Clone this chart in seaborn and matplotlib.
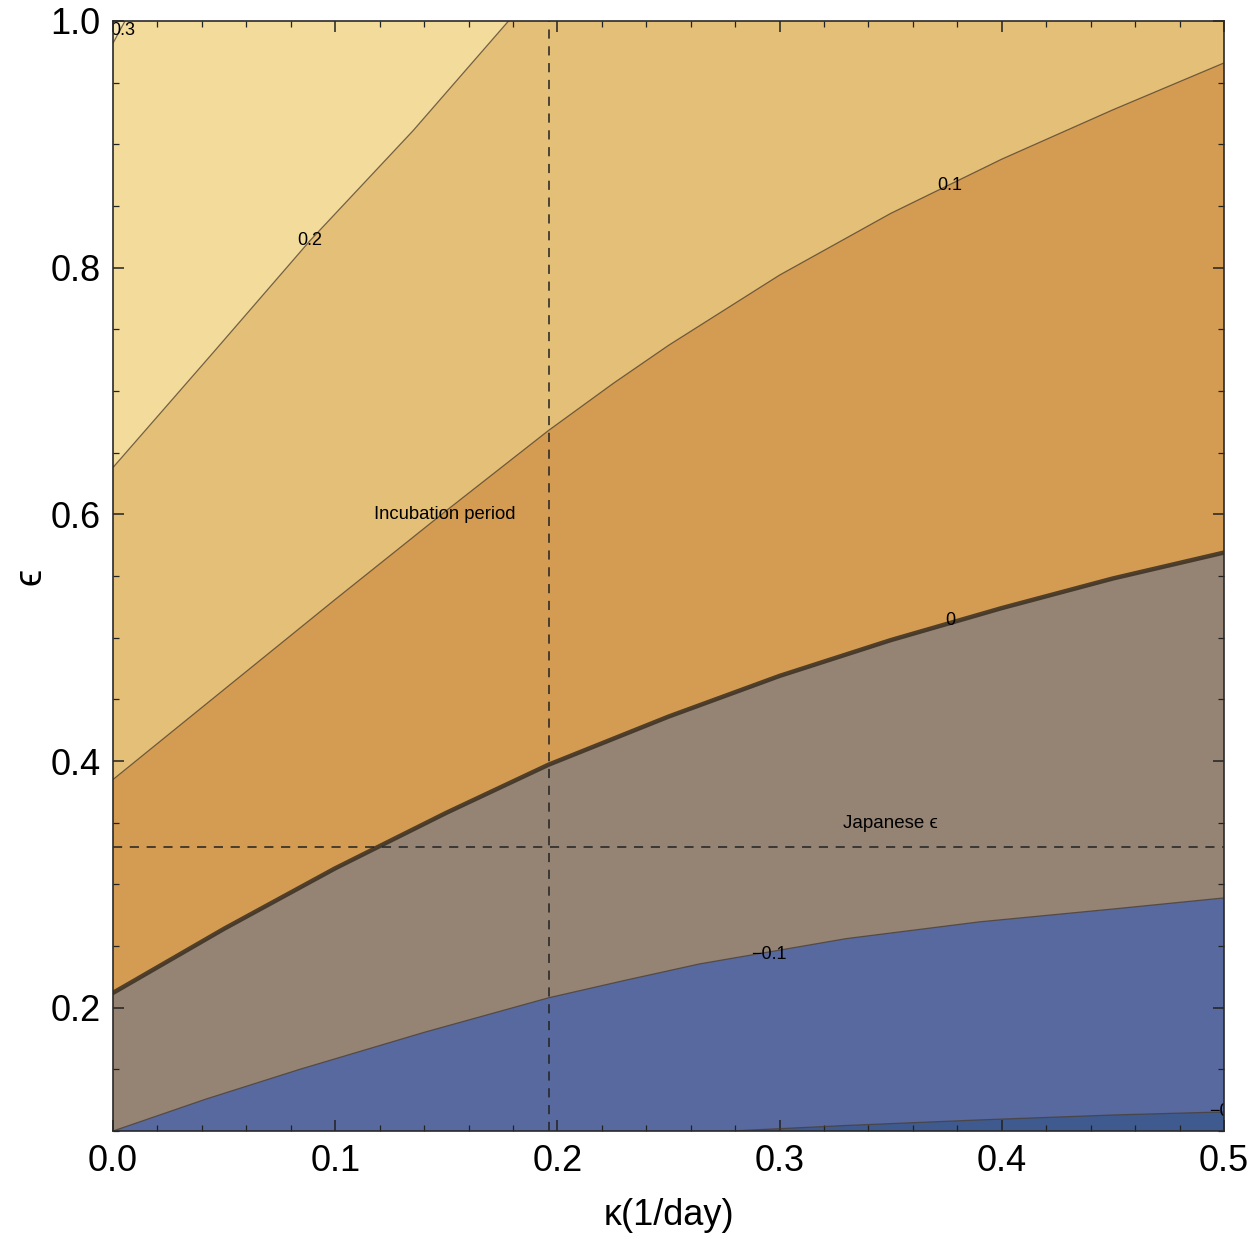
import numpy as np
import pandas as pd
import matplotlib
matplotlib.use("Agg")
import matplotlib.pyplot as plt
import seaborn as sns
from matplotlib.ticker import MultipleLocator

# ---- data: contour lines (kappa, epsilon) ----
levels = ["0.3", "0.2", "0.1", "0", "-0.1", "-0.2"]
k_03 = [0.0, 0.0054]
e_03 = [0.982, 1.0]
k_02 = [0.0, 0.045, 0.0887, 0.135, 0.178]
e_02 = [0.638, 0.731, 0.822, 0.911, 1.0]
k_01 = [0.0, 0.05, 0.1, 0.15, 0.196, 0.225, 0.25, 0.3, 0.35, 0.4, 0.45, 0.5]
e_01 = [0.385, 0.458, 0.531, 0.603, 0.668, 0.706, 0.737, 0.794, 0.844, 0.888, 0.928, 0.966]
k_00 = [0.0, 0.05, 0.1, 0.15, 0.196, 0.25, 0.3, 0.35, 0.4, 0.45, 0.5]
e_00 = [0.212, 0.264, 0.313, 0.358, 0.397, 0.436, 0.469, 0.498, 0.524, 0.548, 0.569]
k_m01 = [0.0, 0.042, 0.084, 0.14, 0.196, 0.23, 0.264, 0.33, 0.39, 0.45, 0.5]
e_m01 = [0.100, 0.126, 0.150, 0.180, 0.208, 0.222, 0.2355, 0.256, 0.2696, 0.280, 0.289]
k_m02 = [0.278, 0.33, 0.39, 0.45, 0.5]
e_m02 = [0.100, 0.1045, 0.109, 0.113, 0.1155]

incubation_kappa = 0.196
japanese_eps = 0.33

# region colours from top (highest) to bottom (lowest)
region_colors = ["#F8E6B4", "#F3DB9B", "#E3BF78", "#D49C52", "#958474", "#5869A0", "#3E5A8E"]

curves = [(k_03, e_03), (k_02, e_02), (k_01, e_01), (k_00, e_00), (k_m01, e_m01), (k_m02, e_m02)]
label_pos = [(0.0045, 0.992, "0.3"), (0.0887, 0.822, "0.2"), (0.3767, 0.867, "0.1"),
             (0.3767, 0.514, "0"), (0.295, 0.243, "\u22120.1"), (0.498, 0.1155, "\u22120")]

XMIN, XMAX, YMIN, YMAX = 0.0, 0.5, 0.1, 1.0

sns.set_theme(style="ticks")
plt.rcParams['font.family'] = ['Liberation Sans', 'DejaVu Sans']
plt.rcParams['text.color'] = 'black'
plt.rcParams['axes.labelcolor'] = 'black'

fig = plt.figure(figsize=(12.5, 12.35), dpi=100)
ax = fig.add_axes([0.0904, 0.0842, 0.8888, 0.8988])
ax.set_axisbelow(False)

# background = top region
ax.fill([XMIN, XMAX, XMAX, XMIN], [YMIN, YMIN, YMAX, YMAX], color=region_colors[0], lw=0, zorder=1)
for i, (kk, ee) in enumerate(curves):
    px = list(kk)
    py = list(ee)
    if py[-1] >= YMAX - 1e-9 and px[-1] < XMAX:
        px.append(XMAX); py.append(YMAX)
    px += [XMAX, XMIN]
    py += [YMIN, YMIN]
    ax.fill(px, py, color=region_colors[i + 1], lw=0, zorder=1 + i * 0.01)

# contour lines through seaborn
for i, (kk, ee) in enumerate(curves):
    df = pd.DataFrame({"kappa": kk, "eps": ee})
    if levels[i] == "0":
        sns.lineplot(data=df, x="kappa", y="eps", sort=False, ax=ax, color="#3a2f22",
                     lw=3.2, alpha=0.85, zorder=3)
    else:
        sns.lineplot(data=df, x="kappa", y="eps", sort=False, ax=ax, color="#4a3d2e",
                     lw=0.9, alpha=0.75, zorder=3)

for x, y, t in label_pos:
    ax.text(x, y, t, fontsize=13, ha="center", va="center", color="black", zorder=5, clip_on=True)

ax.axvline(incubation_kappa, color="#222222", lw=1.1, ls=(0, (6, 5)), zorder=4)
ax.axhline(japanese_eps, color="#222222", lw=1.1, ls=(0, (6, 5)), zorder=4)

ax.text(0.1494, 0.5995, "Incubation period", fontsize=13.3, ha="center", va="center",
        color="black", zorder=5)
ax.text(0.3497, 0.349, "Japanese \u03f5", fontsize=13.5, ha="center", va="center",
        color="black", zorder=5)

ax.set_xlim(XMIN, XMAX)
ax.set_ylim(YMIN, YMAX)
ax.set_xticks([0.0, 0.1, 0.2, 0.3, 0.4, 0.5])
ax.set_xticklabels(["0.0", "0.1", "0.2", "0.3", "0.4", "0.5"])
ax.set_yticks([0.2, 0.4, 0.6, 0.8, 1.0])
ax.set_yticklabels(["0.2", "0.4", "0.6", "0.8", "1.0"])
ax.xaxis.set_minor_locator(MultipleLocator(0.02))
ax.yaxis.set_minor_locator(MultipleLocator(0.05))
ax.tick_params(which="both", direction="in", top=True, right=True, colors="#222222",
               labelsize=26, labelcolor="black")
ax.tick_params(which="major", length=8, width=1.1, pad=9)
ax.tick_params(which="minor", length=4.5, width=0.9)
for s in ax.spines.values():
    s.set_color("#2a2a2a")
    s.set_linewidth(1.2)
    s.set_zorder(6)

ax.set_xlabel("\u03ba(1/day)", fontsize=26, labelpad=14, color="black")
ax.set_ylabel("\u03f5", fontsize=28, color="black")
ax.yaxis.set_label_coords(-0.058, 0.5)

fig.savefig("out.png", dpi=100)
